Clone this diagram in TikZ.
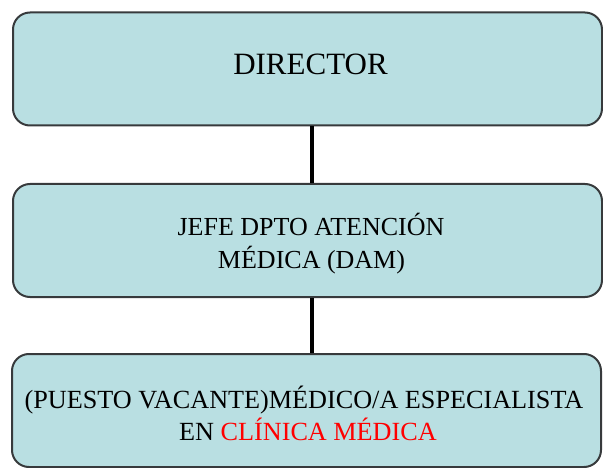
\documentclass[tikz,border=0pt]{standalone}
\usepackage{fontspec}
\setmainfont{Liberation Serif}
\definecolor{boxfill}{RGB}{185,223,226}
\definecolor{boxline}{RGB}{55,58,60}
\begin{document}
\begin{tikzpicture}[x=1pt,y=-1pt,
  orgbox/.style={draw=boxline, line width=2pt, fill=boxfill, rounded corners=17pt,
    minimum width=589pt, minimum height=113pt, anchor=north west, inner sep=0pt},
  lbl/.style={anchor=base, inner sep=0pt},
  link/.style={line width=4pt, black}]
\useasboundingbox (0,0) rectangle (603,468);
\node[orgbox] (b1) at (12,11.5) {};
\node[orgbox] (b2) at (12,183) {};
\node[orgbox] (b3) at (11,353) {};
\draw[link] (b1.south -| 312,0) coordinate (c1) -- (b2.north -| c1);
\draw[link] (b2.south -| 312,0) coordinate (c2) -- (b3.north -| c2);
\node[lbl, font=\fontsize{31}{31}\selectfont] (t1) at (310.5,74.5) {DIRECTOR};
\node[lbl, font=\fontsize{26}{26}\selectfont] (t2a) at (311,235.5) {JEFE DPTO ATENCIÓN};
\node[lbl, font=\fontsize{26}{26}\selectfont] (t2b) at (311.5,269) {MÉDICA (DAM)};
\node[lbl, font=\fontsize{26.2}{26.2}\selectfont] (t3a) at (304,408.5) {(PUESTO VACANTE)MÉDICO/A ESPECIALISTA};
\node[lbl, font=\fontsize{26.2}{26.2}\selectfont] (t3b) at (308,440.5) {EN \textcolor{red}{CLÍNICA MÉDICA}};
\end{tikzpicture}
\end{document}
